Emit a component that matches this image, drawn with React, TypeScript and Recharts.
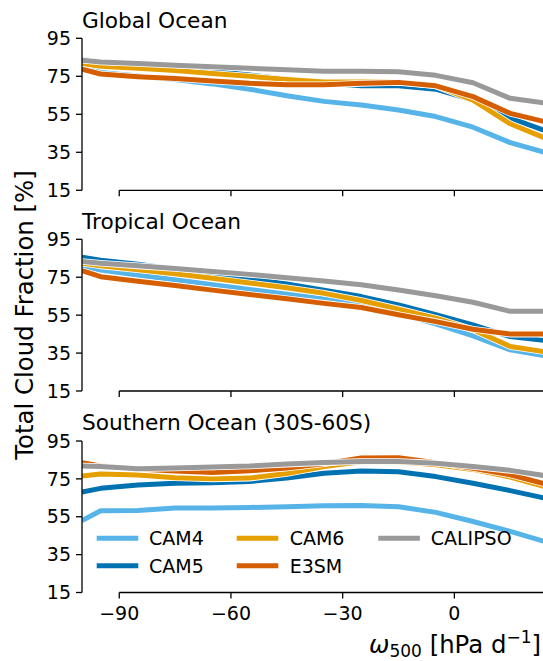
import { Line, LineChart, ReferenceLine, XAxis, YAxis } from "recharts";

const FONT = "'DejaVu Sans', sans-serif";

// omega500 bin centres (first point sits on the left axis limit)
const xBins = [-100, -95, -85, -75, -65, -55, -45, -35, -25, -15, -5, 5, 15, 25];
const xTicks = [-90, -60, -30, 0];
const yTicks = [15, 35, 55, 75, 95];

const models = ["CAM4", "CAM5", "CAM6", "E3SM", "CALIPSO"];
const colors = ["#56B4E9", "#0072B2", "#E69F00", "#D55E00", "#999999"];

// Global Ocean
const globalCam4 = [79.5, 77, 75.2, 73.3, 71, 68.2, 64.8, 61.8, 59.9, 57.3, 53.8, 48.2, 40.1, 34.6];
const globalCam5 = [83.8, 82.5, 81, 79.5, 77.7, 75.7, 73.5, 71.5, 70, 70, 68.2, 62.5, 53, 46];
const globalCam6 = [81.8, 80.3, 79.3, 78, 76.5, 75, 73.3, 72, 72, 72, 70, 62.5, 50, 42];
const globalE3sm = [78.8, 76.2, 74.8, 73.8, 72.5, 71.3, 70.6, 70.5, 71.3, 71.8, 70, 64.3, 55.5, 50.8];
const globalCalipso = [83.5, 82.5, 81.7, 80.8, 80, 79.2, 78.4, 77.6, 77.6, 77.4, 75.5, 71.6, 63.4, 60.8];

// Tropical Ocean
const tropCam4 = [81, 78.8, 76.2, 73.7, 71.1, 68.6, 66, 63.5, 60.4, 56, 50.4, 44.1, 36.7, 33.4];
const tropCam5 = [85.5, 84, 81.8, 79.2, 76.6, 74.2, 71.4, 68.2, 64.8, 60.4, 55.2, 49.9, 43.7, 41.5];
const tropCam6 = [82.4, 81, 79, 76.8, 74.5, 72, 69.5, 66.5, 62.7, 58.2, 53.4, 47.3, 38.5, 35.5];
const tropE3sm = [78.5, 75.3, 72.9, 70.6, 68.2, 65.9, 63.6, 61.2, 59, 55.2, 51.6, 47.6, 45, 45];
const tropCalipso = [83.3, 82.4, 81, 79.6, 78, 76.5, 74.7, 73, 71, 68.3, 65.2, 61.8, 57, 57];

// Southern Ocean (30S-60S)
const southCam4 = [53, 58.2, 58.3, 59.6, 59.6, 59.9, 60.3, 60.8, 61, 60.3, 57.3, 52.5, 47.3, 41.5];
const southCam5 = [68, 70, 71.8, 72.7, 73, 73.6, 75.5, 78, 79.2, 78.8, 76.2, 72.7, 68.8, 64.5];
const southCam6 = [76.5, 77.6, 77, 75.6, 75, 75.4, 77.8, 81.5, 84, 84, 82.5, 80, 76, 70.5];
const southE3sm = [83.5, 81.8, 80.2, 79.2, 78.3, 79.3, 80.8, 83, 86, 86.2, 83.5, 80.6, 77.2, 72];
const southCalipso = [81.8, 81.5, 80.4, 80.8, 81.3, 81.8, 82.8, 83.6, 84.2, 84.2, 83.3, 81.5, 79.5, 76.5];

const toRows = (series: number[][]) =>
  xBins.map((x, i) => {
    const row: Record<string, number> = { x };
    models.forEach((m, j) => (row[m] = series[j][i]));
    return row;
  });

const panels = [
  {
    title: "Global Ocean",
    rows: toRows([globalCam4, globalCam5, globalCam6, globalE3sm, globalCalipso]),
    top: 0,
    marginTop: 38.3,
    height: 200.3,
    xHeight: 10,
    labels: false,
    titleY: 28.3,
  },
  {
    title: "Tropical Ocean",
    rows: toRows([tropCam4, tropCam5, tropCam6, tropE3sm, tropCalipso]),
    top: 200,
    marginTop: 39.3,
    height: 201,
    xHeight: 10,
    labels: false,
    titleY: 228.5,
  },
  {
    title: "Southern Ocean (30S-60S)",
    rows: toRows([southCam4, southCam5, southCam6, southE3sm, southCalipso]),
    top: 400,
    marginTop: 41,
    height: 222.5,
    xHeight: 30,
    labels: true,
    titleY: 430,
  },
];

const X_MAX = 23.8;
const tickStyle = { fontSize: 19, fill: "#000", fontFamily: FONT };
const minus = (v: number) => (v < 0 ? `\u2212${Math.abs(v)}` : `${v}`);
const noLabel = () => <g />;

function Panel({ p }: { p: (typeof panels)[number] }) {
  return (
    <div style={{ position: "absolute", left: 0, top: p.top }}>
      <LineChart
        width={543}
        height={p.height}
        data={p.rows}
        margin={{ top: p.marginTop, right: 0, bottom: 0, left: 0 }}
        style={{ fontFamily: FONT }}
      >
        <XAxis
          dataKey="x"
          type="number"
          domain={[-100, X_MAX]}
          ticks={xTicks}
          interval={0}
          allowDataOverflow
          axisLine={false}
          tickLine={{ stroke: "#000", strokeWidth: 1.3 }}
          tickSize={6}
          tickMargin={8}
          height={p.xHeight}
          tick={p.labels ? tickStyle : noLabel}
          tickFormatter={minus}
        />
        <YAxis
          type="number"
          domain={[15, 95]}
          ticks={yTicks}
          interval={0}
          width={82}
          axisLine={{ stroke: "#000", strokeWidth: 1.3 }}
          tickLine={{ stroke: "#000", strokeWidth: 1.3 }}
          tickSize={6}
          tickMargin={5}
          tick={tickStyle}
        />
        {models.flatMap((m, i) => [
          <Line
            key={`${m}-halo`}
            dataKey={m}
            type="linear"
            stroke="#fff"
            strokeWidth={6.6}
            strokeLinejoin="round"
            dot={false}
            activeDot={false}
            isAnimationActive={false}
          />,
          <Line
            key={m}
            dataKey={m}
            type="linear"
            stroke={colors[i]}
            strokeWidth={5}
            strokeLinejoin="round"
            dot={false}
            activeDot={false}
            isAnimationActive={false}
          />,
        ])}
        <ReferenceLine
          segment={[
            { x: -90, y: 15 },
            { x: X_MAX, y: 15 },
          ]}
          stroke="#000"
          strokeWidth={1.3}
        />
      </LineChart>
    </div>
  );
}

const legendItems = [
  { col: 0, row: 0 },
  { col: 0, row: 1 },
  { col: 1, row: 0 },
  { col: 1, row: 1 },
  { col: 2, row: 0 },
];
const legendLineX = [96.7, 236.7, 378.3];
const legendTextX = [149, 289.7, 430.7];
const legendRowY = [538.3, 565.7];

export default function App() {
  return (
    <div
      style={{
        position: "absolute",
        left: 0,
        top: 0,
        width: 543,
        height: 661,
        background: "#fff",
        fontFamily: FONT,
        overflow: "hidden",
      }}
    >
      {panels.map((p) => (
        <Panel key={p.title} p={p} />
      ))}
      <svg
        width={543}
        height={661}
        style={{ position: "absolute", left: 0, top: 0, pointerEvents: "none" }}
        fontFamily={FONT}
      >
        {panels.map((p) => (
          <text key={p.title} x={82} y={p.titleY} fontSize={21.7} fill="#000">
            {p.title}
          </text>
        ))}
        <text
          transform="translate(33,315) rotate(-90)"
          textAnchor="middle"
          fontSize={24.4}
          fill="#000"
        >
          Total Cloud Fraction [%]
        </text>
        <text x={541} y={653} textAnchor="end" fontSize={24.4} fill="#000">
          <tspan fontStyle="italic">ω</tspan>
          <tspan fontSize={17} dy={4}>
            500
          </tspan>
          <tspan dy={-4}> [hPa d</tspan>
          <tspan fontSize={17} dy={-10}>
            −1
          </tspan>
          <tspan dy={10}>]</tspan>
        </text>
        {legendItems.map((it, i) => {
          const y = legendRowY[it.row];
          const x0 = legendLineX[it.col];
          return (
            <g key={models[i]}>
              <line x1={x0} x2={x0 + 41.6} y1={y} y2={y} stroke="#fff" strokeWidth={6.6} />
              <line x1={x0} x2={x0 + 41.6} y1={y} y2={y} stroke={colors[i]} strokeWidth={5} />
              <text x={legendTextX[it.col]} y={y + 7} fontSize={19} fill="#000">
                {models[i]}
              </text>
            </g>
          );
        })}
      </svg>
    </div>
  );
}
